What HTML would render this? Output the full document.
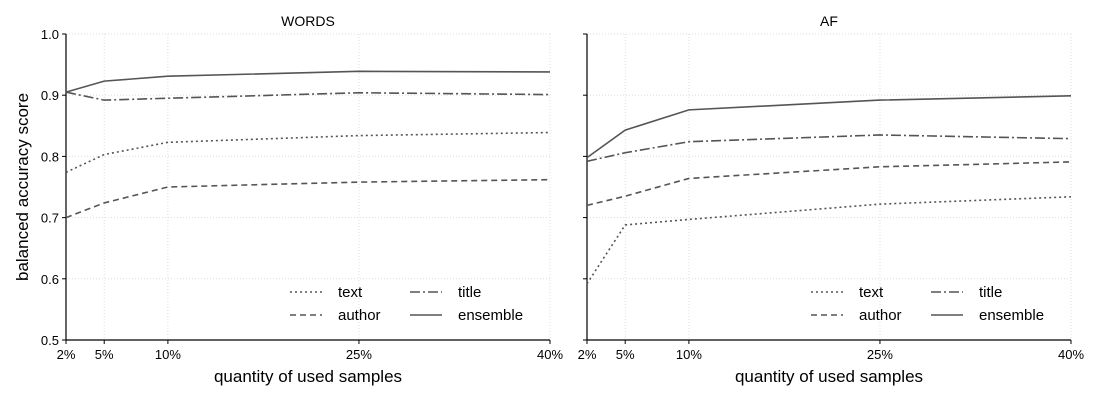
<!DOCTYPE html>
<html><head><meta charset="utf-8"><style>
body{margin:0;background:#fff}
svg{display:block;font-family:"Liberation Sans",Arial,sans-serif}
</style></head><body>
<svg id="c" width="1100" height="400"></svg>
<script>
const xCats=[2,5,10,25,40];
const xLabels=["2%","5%","10%","25%","40%"];
const yTicks=[0.5,0.6,0.7,0.8,0.9,1.0];
const seriesNames=["text","author","title","ensemble"];
const wordsText=[0.774,0.803,0.823,0.834,0.839];
const wordsAuthor=[0.700,0.724,0.750,0.758,0.762];
const wordsTitle=[0.905,0.892,0.895,0.904,0.901];
const wordsEnsemble=[0.905,0.923,0.931,0.939,0.938];
const afText=[0.592,0.688,0.697,0.722,0.734];
const afAuthor=[0.720,0.735,0.764,0.783,0.791];
const afTitle=[0.792,0.806,0.824,0.835,0.829];
const afEnsemble=[0.798,0.843,0.876,0.892,0.899];

const NS="http://www.w3.org/2000/svg";
const svg=document.getElementById('c');
function mk(t,a,p){const e=document.createElementNS(NS,t);for(const k in a)e.setAttribute(k,a[k]);(p||svg).appendChild(e);return e;}
const dash={text:"2,3",author:"6,4",title:"10,3,2,3",ensemble:""};
const panels=[
 {title:"WORDS",x0:66,data:[wordsText,wordsAuthor,wordsTitle,wordsEnsemble],labels:true},
 {title:"AF",x0:587,data:[afText,afAuthor,afTitle,afEnsemble],labels:false}];
const W=484,yT=34,yB=340;
panels.forEach((p,pi)=>{
 const g=mk('g',{});
 
 
 const X=v=>p.x0+(v-2)/38*W;
 const Y=v=>yB-(v-0.5)/0.5*(yB-yT);
 yTicks.forEach(t=>{
  const l=mk('line',{x1:p.x0,x2:p.x0+W,y1:Y(t),y2:Y(t),stroke:"#ddd","stroke-dasharray":"1,2"},g);
  
  mk('line',{x1:p.x0-4,x2:p.x0,y1:Y(t),y2:Y(t),stroke:"#000"},g);
  if(p.labels){const tx=mk('text',{x:p.x0-7,y:Y(t)+5,"text-anchor":"end","font-size":13},g);tx.textContent=t.toFixed(1);
   }
 });
 xCats.forEach((c,i)=>{
  const l=mk('line',{x1:X(c),x2:X(c),y1:yT,y2:yB,stroke:"#ddd","stroke-dasharray":"1,2"},g);
  
  mk('line',{x1:X(c),x2:X(c),y1:yB,y2:yB+4,stroke:"#000"},g);
  const tx=mk('text',{x:X(c),y:yB+19,"text-anchor":"middle","font-size":13},g);tx.textContent=xLabels[i];
  
 });
 mk('line',{x1:p.x0,x2:p.x0,y1:yT,y2:yB,stroke:"#000","stroke-width":1.2},g);
 mk('line',{x1:p.x0,x2:p.x0+W,y1:yB,y2:yB,stroke:"#000","stroke-width":1.2},g);
 const tt=mk('text',{x:p.x0+W/2,y:26,"text-anchor":"middle","font-size":14},g);tt.textContent=p.title;
 
 const xt=mk('text',{x:p.x0+W/2,y:382,"text-anchor":"middle","font-size":17},g);xt.textContent="quantity of used samples";
 
 p.data.forEach((arr,si)=>{
  const pts=arr.map((v,i)=>X(xCats[i])+","+Y(v)).join(" ");
  const pl=mk('polyline',{points:pts,fill:"none",stroke:"#555","stroke-width":1.6,"stroke-dasharray":dash[seriesNames[si]]},g);
  
  
 });
 const lx=[p.x0+224,p.x0+224,p.x0+344,p.x0+344], ly=[292,315,292,315];
 seriesNames.forEach((n,i)=>{
  const le=mk('g',{},g);
  
  
  mk('line',{x1:lx[i],x2:lx[i]+32,y1:ly[i],y2:ly[i],stroke:"#555","stroke-width":1.6,"stroke-dasharray":dash[n]},le);
  const t=mk('text',{x:lx[i]+48,y:ly[i]+5,"font-size":15},le);t.textContent=n;
 });
});
const yl=mk('text',{x:28,y:187,"text-anchor":"middle","font-size":17,transform:"rotate(-90 28 187)"});
yl.textContent="balanced accuracy score";


</script>
</body></html>
